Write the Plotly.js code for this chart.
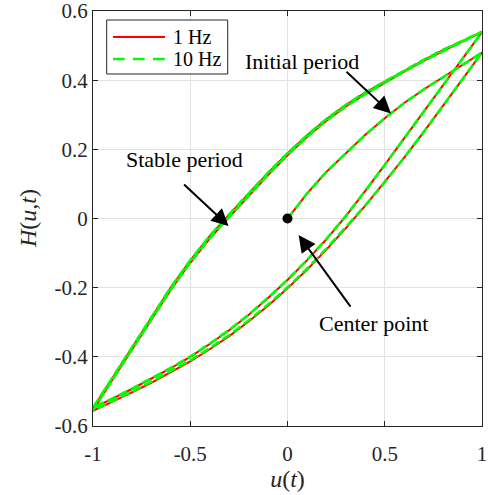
<!DOCTYPE html>
<html><head><meta charset="utf-8">
<script src="https://cdn.plot.ly/plotly-3.0.1.min.js"></script>
<style>html,body{margin:0;padding:0;background:#fff}#plot{width:488px;height:495px}</style>
</head><body><div id="plot"></div>
<script>
// ---- data ----
const uInit = [0, 0.1, 0.2, 0.3, 0.4, 0.5, 0.6, 0.7, 0.8, 0.9, 1];
const uDown = [1, 0.9, 0.8, 0.7, 0.6, 0.5, 0.4, 0.3, 0.2, 0.1, 0, -0.1, -0.2, -0.3, -0.4, -0.5, -0.6, -0.7, -0.8, -0.9, -1];
const uUp = [-1, -0.9, -0.8, -0.7, -0.6, -0.5, -0.4, -0.3, -0.2, -0.1, 0, 0.1, 0.2, 0.3, 0.4, 0.5, 0.6, 0.7, 0.8, 0.9, 1];

// 1 Hz
const hInit_1Hz  = [0, 0.072, 0.135, 0.19, 0.242, 0.29, 0.334, 0.373, 0.408, 0.443, 0.48];
const hDown1_1Hz = [0.48, 0.403, 0.326, 0.25, 0.176, 0.105, 0.037, -0.028, -0.09, -0.148, -0.202, -0.252, -0.298, -0.34, -0.378, -0.413, -0.445, -0.475, -0.503, -0.53, -0.556];
const hUp1_1Hz   = [-0.556, -0.466, -0.379, -0.292, -0.206, -0.128, -0.058, 0.004, 0.066, 0.126, 0.183, 0.236, 0.283, 0.324, 0.36, 0.393, 0.425, 0.456, 0.485, 0.512, 0.539];
const hDown2_1Hz = [0.539, 0.462, 0.384, 0.307, 0.231, 0.155, 0.08, 0.007, -0.06, -0.121, -0.178, -0.23, -0.279, -0.323, -0.363, -0.4, -0.433, -0.464, -0.493, -0.521, -0.548];
const hUp2_1Hz   = [-0.548, -0.461, -0.373, -0.286, -0.2, -0.122, -0.051, 0.011, 0.073, 0.132, 0.188, 0.24, 0.287, 0.328, 0.364, 0.396, 0.428, 0.458, 0.487, 0.514, 0.54];

// 10 Hz
const hInit_10Hz  = [0, 0.072, 0.135, 0.19, 0.242, 0.29, 0.334, 0.373, 0.408, 0.443, 0.48];
const hDown1_10Hz = [0.48, 0.403, 0.326, 0.25, 0.176, 0.105, 0.038, -0.026, -0.087, -0.145, -0.199, -0.249, -0.295, -0.337, -0.375, -0.41, -0.442, -0.472, -0.501, -0.529, -0.555];
const hUp1_10Hz   = [-0.555, -0.466, -0.378, -0.291, -0.205, -0.127, -0.057, 0.005, 0.067, 0.127, 0.184, 0.236, 0.283, 0.324, 0.36, 0.393, 0.425, 0.456, 0.485, 0.512, 0.539];
const hDown2_10Hz = [0.539, 0.462, 0.384, 0.307, 0.231, 0.155, 0.08, 0.008, -0.059, -0.12, -0.177, -0.229, -0.278, -0.322, -0.362, -0.399, -0.432, -0.463, -0.492, -0.52, -0.547];
const hUp2_10Hz   = [-0.547, -0.46, -0.372, -0.285, -0.199, -0.121, -0.05, 0.012, 0.074, 0.133, 0.189, 0.241, 0.288, 0.329, 0.365, 0.397, 0.429, 0.459, 0.488, 0.515, 0.54];

const centerU = [0];
const centerH = [0];

const seriesNames = ['1 Hz', '10 Hz'];
const xTickVals = [-1, -0.5, 0, 0.5, 1];
const xTickText = ['-1', '-0.5', '0', '0.5', '1'];
const yTickVals = [-0.6, -0.4, -0.2, 0, 0.2, 0.4, 0.6];
const yTickText = ['-0.6', '-0.4', '-0.2', '0', '0.2', '0.4', '0.6'];
const xTitle = '<i>u</i>(<i>t</i>)';
const yTitle = '<i>H</i>(<i>u</i>,<i>t</i>)';

// ---- build traces ----
const uAll = uInit.concat(uDown, uUp, uDown, uUp);
const h1 = hInit_1Hz.concat(hDown1_1Hz, hUp1_1Hz, hDown2_1Hz, hUp2_1Hz);
const h10 = hInit_10Hz.concat(hDown1_10Hz, hUp1_10Hz, hDown2_10Hz, hUp2_10Hz);

const FONT = 'Liberation Serif, "Times New Roman", serif';
const AX = '#262626';
const RED = '#ff0000', GREEN = '#00ff00';

const traces = [
  {x: uAll, y: h1, type: 'scatter', mode: 'lines', name: seriesNames[0],
   line: {color: RED, width: 2}},
  {x: uAll, y: h10, type: 'scatter', mode: 'lines', name: seriesNames[1],
   line: {color: GREEN, width: 2.6, dash: '9px,4px'}},
  {x: centerU, y: centerH, type: 'scatter', mode: 'markers', showlegend: false,
   marker: {color: '#000', size: 10}}
];

const axisCommon = {
  ticks: 'inside', ticklen: 5, tickcolor: AX, tickwidth: 1,
  showline: true, linecolor: AX, linewidth: 1, mirror: 'ticks',
  showgrid: true, gridcolor: '#e2e2e2', gridwidth: 1, zeroline: false,
  tickfont: {family: FONT, size: 21, color: AX}, tickmode: 'array',
  ticklabeloverflow: 'allow', automargin: false
};

// legend box geometry (paper coords)
const LG = {x0: 0.0352, x1: 0.3463, y0: 0.8482, y1: 0.9783,
            lx0: 0.0514, lx1: 0.1851, ly: [0.9373, 0.8843], tx: 0.1997};

const layout = {
  width: 488, height: 495,
  margin: {l: 93, r: 6, t: 11, b: 69},
  paper_bgcolor: '#fff', plot_bgcolor: '#fff',
  showlegend: false,
  xaxis: Object.assign({}, axisCommon, {
    range: [-1, 1], tickvals: xTickVals, ticktext: xTickText, ticklabelstandoff: 9,
    title: {text: xTitle, font: {family: FONT, size: 24, color: AX}, standoff: 4}
  }),
  yaxis: Object.assign({}, axisCommon, {
    range: [-0.6, 0.6001], tickvals: yTickVals, ticktext: yTickText
  }),
  shapes: [
    {type: 'rect', xref: 'paper', yref: 'paper', x0: LG.x0, x1: LG.x1, y0: LG.y0, y1: LG.y1,
     fillcolor: '#fff', line: {color: AX, width: 1}, layer: 'above'},
    {type: 'line', xref: 'paper', yref: 'paper', x0: LG.lx0, x1: LG.lx1, y0: LG.ly[0], y1: LG.ly[0],
     line: {color: RED, width: 2}, layer: 'above'},
    {type: 'line', xref: 'paper', yref: 'paper', x0: LG.lx0, x1: LG.lx1, y0: LG.ly[1], y1: LG.ly[1],
     line: {color: GREEN, width: 2.6, dash: '11.7px,8.3px'}, layer: 'above'}
  ],
  annotations: [
    {x: -0.1684, y: 0.5, xref: 'paper', yref: 'paper', xanchor: 'center', yanchor: 'middle',
     textangle: -90, text: yTitle, showarrow: false, font: {family: FONT, size: 24, color: AX}},
    {x: LG.tx, y: LG.ly[0], xref: 'paper', yref: 'paper', xanchor: 'left', yanchor: 'middle',
     text: seriesNames[0], showarrow: false, font: {family: FONT, size: 20, color: '#000'}},
    {x: LG.tx, y: LG.ly[1], xref: 'paper', yref: 'paper', xanchor: 'left', yanchor: 'middle',
     text: seriesNames[1], showarrow: false, font: {family: FONT, size: 20, color: '#000'}},
    {x: 0.074, y: 0.453, xref: 'x', yref: 'y', text: 'Initial period', showarrow: false,
     font: {family: FONT, size: 22, color: '#000'}},
    {x: -0.532, y: 0.172, xref: 'x', yref: 'y', text: 'Stable period', showarrow: false,
     font: {family: FONT, size: 22, color: '#000'}},
    {x: 0.443, y: -0.303, xref: 'x', yref: 'y', text: 'Center point', showarrow: false,
     font: {family: FONT, size: 22, color: '#000'}},
    {x: 0.532, y: 0.304, xref: 'x', yref: 'y', ax: -46, ay: -43, text: '', showarrow: true,
     arrowhead: 2, arrowsize: 1.7, arrowwidth: 2, arrowcolor: '#000', standoff: 0},
    {x: -0.303, y: -0.022, xref: 'x', yref: 'y', ax: -46, ay: -43, text: '', showarrow: true,
     arrowhead: 2, arrowsize: 1.7, arrowwidth: 2, arrowcolor: '#000', standoff: 0},
    {x: 0.057, y: -0.048, xref: 'x', yref: 'y', ax: 53, ay: 73, text: '', showarrow: true,
     arrowhead: 2, arrowsize: 1.7, arrowwidth: 2, arrowcolor: '#000', standoff: 0}
  ]
};

Plotly.newPlot('plot', traces, layout, {displayModeBar: false, staticPlot: true});
</script>
</body></html>
